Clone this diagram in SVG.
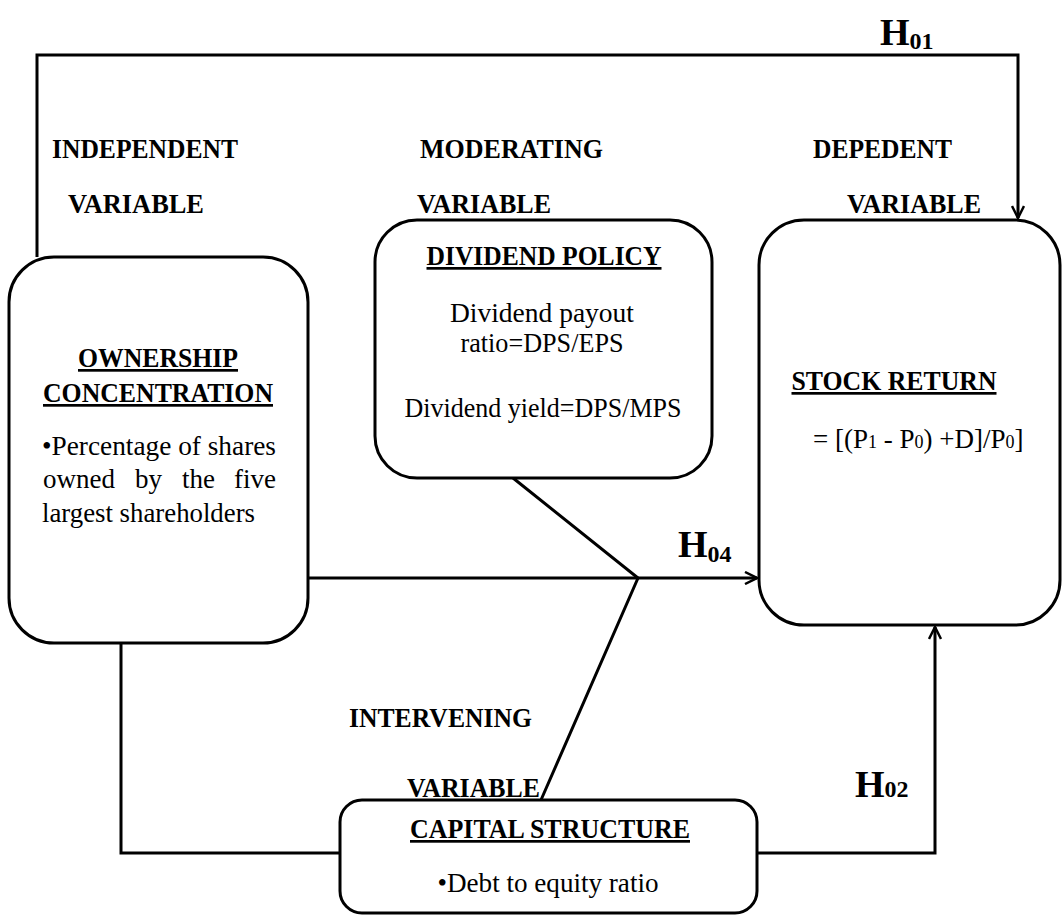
<svg xmlns="http://www.w3.org/2000/svg" width="1063" height="916" viewBox="0 0 1063 916">
<style>
text{font-family:"Liberation Serif","Times New Roman",serif;fill:#000}
.lbl{font-size:27px;font-weight:bold}
.hd{font-size:27px;font-weight:bold;text-decoration:underline}
.bd{font-size:27px}
.h{font-size:38px;font-weight:bold}
.hs{font-size:24px;font-weight:bold}
.box{fill:#fff;stroke:#000;stroke-width:3}
.ln{fill:none;stroke:#000;stroke-width:3}
</style>
<defs>
<marker id="arr" viewBox="0 0 14 14" refX="13" refY="7" markerWidth="14" markerHeight="14" markerUnits="userSpaceOnUse" orient="auto">
<polyline points="1,1 13,7 1,13" fill="none" stroke="#000" stroke-width="2.5"/>
</marker>
</defs>
<rect width="1063" height="916" fill="#fff"/>
<g id="connectors">
<polyline class="ln" points="37,257 37,55 1018,55 1018,218" marker-end="url(#arr)"/>
<line class="ln" x1="307" y1="578" x2="757" y2="578" marker-end="url(#arr)"/>
<polyline class="ln" points="513,478 638,578 541,800"/>
<polyline class="ln" points="121,643 121,853 340,853"/>
<polyline class="ln" points="757,853 935,853 935,627" marker-end="url(#arr)"/>
</g>
<g id="labels">
<text class="h" x="880" y="45">H<tspan class="hs" dy="4">01</tspan></text>
<text class="lbl" x="52" y="158" textLength="186" lengthAdjust="spacingAndGlyphs">INDEPENDENT</text>
<text class="lbl" x="68" y="213" textLength="136" lengthAdjust="spacingAndGlyphs">VARIABLE</text>
<text class="lbl" x="420" y="158" textLength="183" lengthAdjust="spacingAndGlyphs">MODERATING</text>
<text class="lbl" x="417" y="213" textLength="134" lengthAdjust="spacingAndGlyphs">VARIABLE</text>
<text class="lbl" x="813" y="158" textLength="139" lengthAdjust="spacingAndGlyphs">DEPEDENT</text>
<text class="lbl" x="847" y="213" textLength="134" lengthAdjust="spacingAndGlyphs">VARIABLE</text>
<text class="h" x="678" y="557">H<tspan class="hs" dy="5">04</tspan></text>
<text class="lbl" x="349" y="727" textLength="183" lengthAdjust="spacingAndGlyphs">INTERVENING</text>
<text class="lbl" x="407" y="797" textLength="133" lengthAdjust="spacingAndGlyphs">VARIABLE</text>
<text class="h" x="855" y="797">H<tspan class="hs" dy="0">02</tspan></text>
</g>
<g id="ownership">
<rect class="box" x="9" y="257" width="299" height="386" rx="45"/>
<text class="hd" x="158" y="367" text-anchor="middle" textLength="160" lengthAdjust="spacingAndGlyphs">OWNERSHIP</text>
<text class="hd" x="158" y="402" text-anchor="middle" textLength="230" lengthAdjust="spacingAndGlyphs">CONCENTRATION</text>
<text class="bd" x="42" y="455" textLength="234" lengthAdjust="spacingAndGlyphs">•Percentage of shares</text>
<text class="bd" x="43" y="488">owned</text>
<text class="bd" x="135" y="488">by</text>
<text class="bd" x="182" y="488">the</text>
<text class="bd" x="234" y="488">five</text>
<text class="bd" x="42" y="522" textLength="213" lengthAdjust="spacingAndGlyphs">largest shareholders</text>
</g>
<g id="dividend">
<rect class="box" x="375" y="220" width="337" height="258" rx="42"/>
<text class="hd" x="544" y="265" text-anchor="middle" textLength="235" lengthAdjust="spacingAndGlyphs">DIVIDEND POLICY</text>
<text class="bd" x="542" y="322" text-anchor="middle" textLength="184" lengthAdjust="spacingAndGlyphs">Dividend payout</text>
<text class="bd" x="542" y="352" text-anchor="middle" textLength="163" lengthAdjust="spacingAndGlyphs">ratio=DPS/EPS</text>
<text class="bd" x="543" y="417" text-anchor="middle" textLength="277" lengthAdjust="spacingAndGlyphs">Dividend yield=DPS/MPS</text>
</g>
<g id="stock">
<rect class="box" x="759" y="220" width="301" height="405" rx="45"/>
<text class="hd" x="894" y="390" text-anchor="middle" textLength="205" lengthAdjust="spacingAndGlyphs">STOCK RETURN</text>
<text class="bd" x="813" y="448" font-size="24">= [(P<tspan font-size="18">1</tspan> - P<tspan font-size="18">0</tspan>) +D]/P<tspan font-size="18">0</tspan>]</text>
</g>
<g id="capital">
<rect class="box" x="340" y="800" width="417" height="113" rx="22"/>
<text class="hd" x="550" y="838" text-anchor="middle" textLength="280" lengthAdjust="spacingAndGlyphs">CAPITAL STRUCTURE</text>
<text class="bd" x="548" y="892" text-anchor="middle" textLength="221" lengthAdjust="spacingAndGlyphs">•Debt to equity ratio</text>
</g>
</svg>
